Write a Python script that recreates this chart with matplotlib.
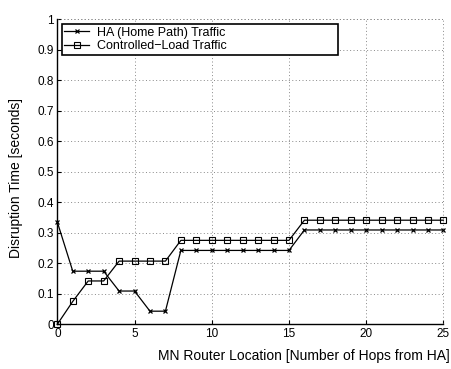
import matplotlib
matplotlib.use("Agg")
import matplotlib.pyplot as plt

hops = list(range(0, 26))
ha_traffic = [0.335, 0.174, 0.174, 0.174, 0.109, 0.109, 0.043, 0.043,
              0.242, 0.242, 0.242, 0.242, 0.242, 0.242, 0.242, 0.242,
              0.309, 0.309, 0.309, 0.309, 0.309, 0.309, 0.309, 0.309, 0.309, 0.309]
cl_traffic = [0.0, 0.075, 0.142, 0.142, 0.207, 0.207, 0.207, 0.207,
              0.275, 0.275, 0.275, 0.275, 0.275, 0.275, 0.275, 0.275,
              0.341, 0.341, 0.341, 0.341, 0.341, 0.341, 0.341, 0.341, 0.341, 0.341]
xticks = [0, 5, 10, 15, 20, 25]
yticks = [0, 0.1, 0.2, 0.3, 0.4, 0.5, 0.6, 0.7, 0.8, 0.9, 1]
yticklabels = ["0", "0.1", "0.2", "0.3", "0.4", "0.5", "0.6", "0.7", "0.8", "0.9", "1"]

plt.rcParams['font.family'] = ['Liberation Sans', 'DejaVu Sans']

fig = plt.figure(figsize=(4.52, 3.69), dpi=100)
ax = fig.add_axes([0.1268, 0.1211, 0.981 - 0.1268, 0.9485 - 0.1211])

ax.plot(hops, ha_traffic, color='black', lw=0.9, marker='x', ms=3.5, mew=0.9,
        label='HA (Home Path) Traffic', clip_on=False)
ax.plot(hops, cl_traffic, color='black', lw=0.9, marker='s', ms=4.5, mew=0.8,
        mfc='none', label='Controlled\u2212Load Traffic', clip_on=False)

ax.set_xlim(0, 25)
ax.set_ylim(0, 1)
ax.set_xticks(xticks)
ax.set_yticks(yticks)
ax.set_yticklabels(yticklabels)
ax.tick_params(direction='in', length=3, width=0.8, labelsize=8.5, pad=2.5, colors='black')

ax.grid(True, linestyle=(0, (1, 2.5)), color='#888888', lw=0.7)
ax.spines['top'].set_visible(False)
ax.spines['right'].set_visible(False)
ax.spines['left'].set_linewidth(1.0)
ax.spines['bottom'].set_linewidth(1.0)
ax.axhline(1, color='#888888', lw=0.7, linestyle=(0, (1, 2.5)), clip_on=False)
ax.axvline(25, color='#888888', lw=0.7, linestyle=(0, (1, 2.5)), clip_on=False)

ax.set_xlabel('MN Router Location [Number of Hops from HA]', fontsize=10, ha='right')
ax.xaxis.set_label_coords(1.017, -0.082)
ax.set_ylabel('Disruption Time [seconds]', fontsize=10)
ax.yaxis.set_label_coords(-0.088, 0.48)

leg = ax.legend(loc='upper left', fontsize=9, numpoints=1, handlelength=2.0,
                bbox_to_anchor=(0.012, 0.879, 0.715, 0.1046), mode='expand',
                fancybox=False, framealpha=1, edgecolor='black',
                borderaxespad=0.0, borderpad=0.2, labelspacing=0.15, handletextpad=0.6)
leg.get_frame().set_linewidth(1.2)

fig.savefig('out.png', dpi=100)
